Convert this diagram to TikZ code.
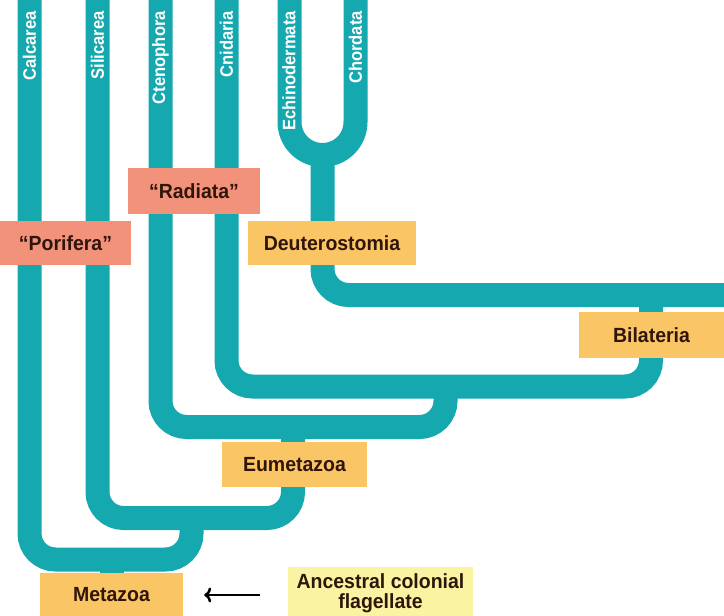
\documentclass[tikz,border=0pt]{standalone}
\usepackage{fontspec}
\setmainfont{Liberation Sans}
\newfontfamily\narrowsans[FakeStretch=0.92]{Liberation Sans}
\newfontfamily\labelsans[FakeStretch=0.95]{Liberation Sans}
\usetikzlibrary{arrows.meta}
\definecolor{tubeteal}{RGB}{22,168,175}
\definecolor{gradepink}{RGB}{243,146,122}
\definecolor{cladeorange}{RGB}{250,197,100}
\definecolor{ancyellow}{RGB}{250,244,162}
\definecolor{labeltext}{RGB}{48,22,10}
\begin{document}
\begin{tikzpicture}[x=1pt,y=-1pt,>={To[length=7pt,width=15pt]},
    tube/.style={draw=tubeteal,line width=24pt,rounded corners=26pt},
    taxon/.style={rotate=90,anchor=east,inner sep=0pt,text=white,
      font=\narrowsans\fontsize{18}{18}\selectfont\bfseries},
    clade/.style={minimum height=44pt,inner sep=0pt,text=labeltext,
      font=\labelsans\fontsize{20.5}{20}\selectfont\bfseries},
    grade/.style={clade,fill=gradepink},
    group/.style={clade,fill=cladeorange}]
  \useasboundingbox (0,0) rectangle (724,616);
  \clip (0,0) rectangle (724,616);
  % branches
  \draw[tube] (29.5,-5) -- (29.5,559.5) -- (191.5,559.5) -- (191.5,516);
  \draw[tube] (112,559.5) -- (112,585);
  \draw[tube] (97.5,-5) -- (97.5,518) -- (293,518) -- (293,427);
  \draw[tube] (160.5,-5) -- (160.5,427) -- (445.5,427) -- (445.5,386.5);
  \draw[tube] (226.5,-5) -- (226.5,386.5) -- (651,386.5) -- (651,295);
  \draw[tube] (322.5,150) -- (322.5,295) -- (730,295);
  \draw[tube,rounded corners=33pt] (289.5,-5) -- (289.5,155) -- (355.5,155) -- (355.5,-5);
  % phyla
  \node[taxon] (calc) at (29.5,11) {Calcarea};
  \node[taxon] (sili) at (97.5,11) {Silicarea};
  \node[taxon] (cten) at (160.5,11) {Ctenophora};
  \node[taxon] (cnid) at (226.5,11) {Cnidaria};
  \node[taxon] (echi) at (289,11) {Echinodermata};
  \node[taxon] (chor) at (355.5,11) {Chordata};
  % groups
  \node[grade,minimum width=131pt] (pori) at (65.5,243) {“Porifera”};
  \node[grade,minimum width=132pt,minimum height=46pt] (radi) at (194,191) {“Radiata”};
  \node[group,minimum width=168pt] (deut) at (332,243) {Deuterostomia};
  \node[group,minimum width=145pt,minimum height=46pt] (bila) at (651.5,335) {Bilateria};
  \node[group,minimum width=145pt,minimum height=45pt] (eume) at (294.5,464.5) {Eumetazoa};
  \node[group,minimum width=143pt] (meta) at (111.5,595) {Metazoa};
  \node[clade,fill=ancyellow,align=center,minimum width=185pt,minimum height=52pt]
    (anc) at (380.5,593) {Ancestral colonial\\flagellate};
  \draw[->,line width=2.5pt,shorten <=28pt,shorten >=21pt] (anc.west |- meta) -- (meta.east);
\end{tikzpicture}
\end{document}
